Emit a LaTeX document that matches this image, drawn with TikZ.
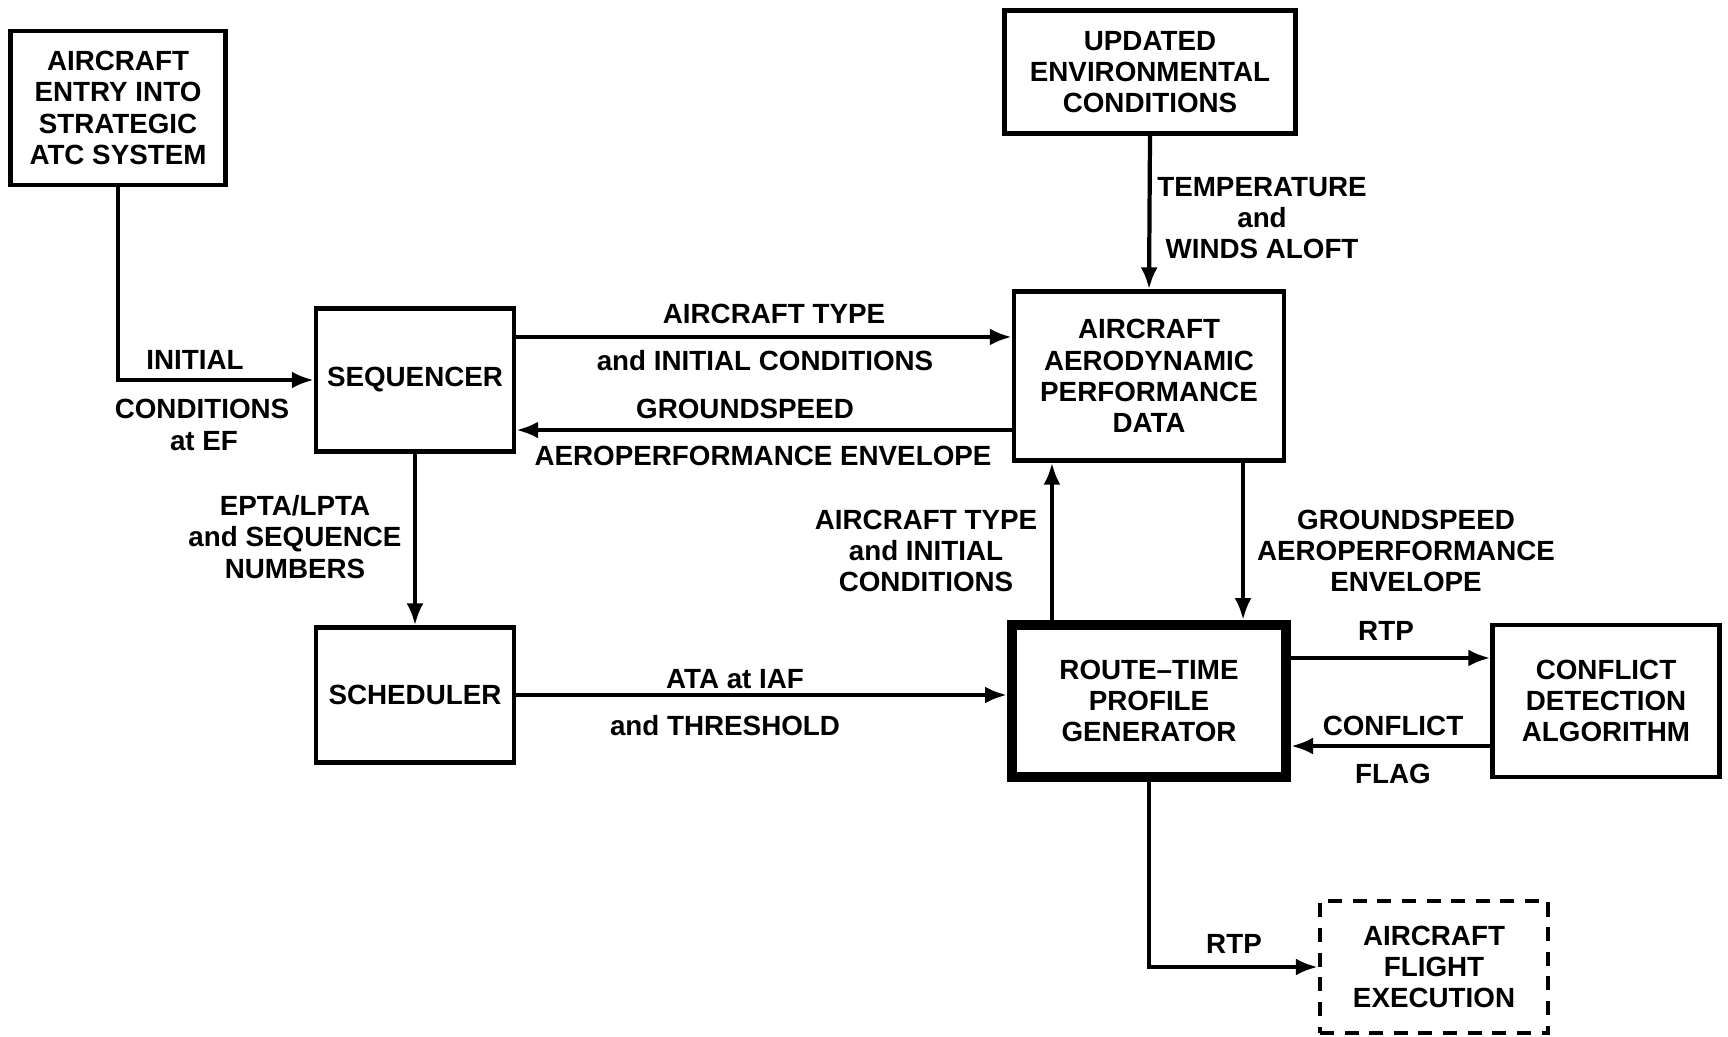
\documentclass[tikz,border=0pt]{standalone}
\usepackage{fontspec}
\setmainfont{Liberation Sans}
\usetikzlibrary{arrows.meta}

\begin{document}
\begin{tikzpicture}[x=0.01cm, y=-0.01cm,
    every node/.style={font=\bfseries\fontsize{7.9}{8.9}\selectfont, align=center},
    block/.style={draw, line width=1.2pt, inner sep=0pt},
    arr/.style={line width=1.2pt, -{Latex[length=2.2mm, width=1.7mm]}},
  ]
  \fill[white] (0,0) rectangle (1728,1037);
  \useasboundingbox (0,0) rectangle (1728,1037);

  % boxes
  \node[block, minimum width=2.15cm, minimum height=1.54cm] (entry) at (118,108)
    {AIRCRAFT\\ENTRY INTO\\STRATEGIC\\ATC SYSTEM};
  \node[block, minimum width=2.91cm, minimum height=1.23cm] (env) at (1150,72)
    {UPDATED\\ENVIRONMENTAL\\CONDITIONS};
  \node[block, minimum width=1.98cm, minimum height=1.43cm] (seq) at (415,380)
    {SEQUENCER};
  \node[block, minimum width=2.70cm, minimum height=1.69cm] (aero) at (1149,376)
    {AIRCRAFT\\AERODYNAMIC\\PERFORMANCE\\DATA};
  \node[block, minimum width=1.98cm, minimum height=1.35cm] (sched) at (415,695)
    {SCHEDULER};
  \node[block, line width=2.8pt, minimum width=2.74cm, minimum height=1.52cm] (rtpg) at (1149,701)
    {ROUTE--TIME\\PROFILE\\GENERATOR};
  \node[block, minimum width=2.27cm, minimum height=1.52cm] (cda) at (1606,701)
    {CONFLICT\\DETECTION\\ALGORITHM};
  \node[block, dash pattern=on 4pt off 3pt, minimum width=2.28cm, minimum height=1.32cm] (flight) at (1434,967)
    {AIRCRAFT\\FLIGHT\\EXECUTION};

  % connectors
  \draw[arr] (entry.south) |- (seq.west);
  \draw[arr] ([yshift=4.3mm]seq.east) -- ([yshift=4.3mm]seq.east -| aero.west);
  \draw[arr] ([yshift=-5.0mm]seq.east -| aero.west) -- ([yshift=-5.0mm]seq.east);
  \draw[arr] (seq.south) -- (sched.north);
  \draw[arr] (env.south) -- (aero.north);
  \draw[arr] ([xshift=-9.7mm]rtpg.north) -- ([xshift=-9.7mm]rtpg.north |- aero.south);
  \draw[arr] ([xshift=9.4mm]rtpg.north |- aero.south) -- ([xshift=9.4mm]rtpg.north);
  \draw[arr] (sched.east) -- (sched.east -| rtpg.west);
  \draw[arr] ([yshift=4.3mm]rtpg.east) -- ([yshift=4.3mm]rtpg.east -| cda.west);
  \draw[arr] ([yshift=-4.5mm]rtpg.east -| cda.west) -- ([yshift=-4.5mm]rtpg.east);
  \draw[arr] (rtpg.south) |- (flight.west);

  % labels
  \node (lblinit) at (195,360) {INITIAL};
  \node (lblcond) at (202,409) {CONDITIONS};
  \node (lblef) at (204,441) {at EF};
  \node (lbltype) at (774,314) {AIRCRAFT TYPE};
  \node (lblinitc) at (765,361) {and INITIAL CONDITIONS};
  \node (lblgs) at (745,409) {GROUNDSPEED};
  \node (lblenv) at (763,456) {AEROPERFORMANCE ENVELOPE};
  \node (lblepta) at (295,537) {EPTA/LPTA\\and SEQUENCE\\NUMBERS};
  \node (lbltemp) at (1262,218) {TEMPERATURE\\and\\WINDS ALOFT};
  \node (lbltype2) at (926,551) {AIRCRAFT TYPE\\and INITIAL\\CONDITIONS};
  \node (lblgs2) at (1406,551) {GROUNDSPEED\\AEROPERFORMANCE\\ENVELOPE};
  \node (lblata) at (735,679) {ATA at IAF};
  \node (lblthr) at (725,726) {and THRESHOLD};
  \node (lblrtp) at (1386,631) {RTP};
  \node (lblconf) at (1393,726) {CONFLICT};
  \node (lblflag) at (1393,774) {FLAG};
  \node (lblrtp2) at (1234,944) {RTP};
\end{tikzpicture}
\end{document}
